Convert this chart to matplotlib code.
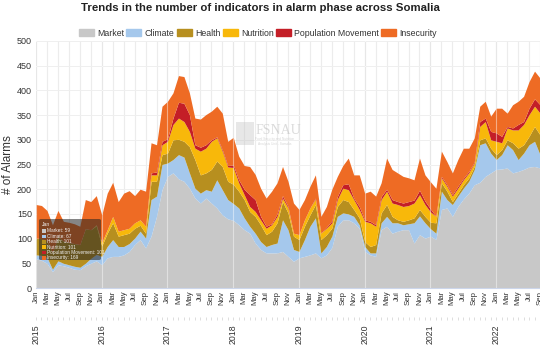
import numpy as np
import matplotlib.pyplot as plt
from matplotlib.patches import Patch, FancyBboxPatch, Rectangle

plt.rcParams['font.family'] = ['Liberation Sans', 'DejaVu Sans']

# monthly series, Jan 2015 .. Sep 2022 (stacked running totals, as shown in the tooltip)
market = [59, 56, 50, 33, 47, 45, 42, 38, 37, 45, 50, 55,
          47, 61, 64, 64, 67, 74, 88, 98, 81, 105, 145, 199,
          226, 233, 221, 216, 202, 182, 172, 182, 172, 162, 148, 140,
          137, 128, 118, 111, 91, 78, 71, 71, 71, 74, 64, 54,
          61, 64, 67, 71, 61, 67, 82, 125, 138, 138, 132, 121,
          74, 67, 64, 118, 125, 111, 115, 118, 118, 91, 108, 101,
          105, 98, 159, 162, 145, 165, 180, 192, 209, 214, 226, 233,
          240, 241, 243, 233, 236, 240, 245, 246, 243]
climate = [67, 66, 62, 38, 55, 50, 47, 44, 42, 50, 60, 68,
           64, 84, 98, 84, 84, 90, 101, 115, 101, 179, 186, 250,
           253, 260, 270, 265, 233, 202, 192, 199, 196, 219, 199, 179,
           171, 162, 142, 125, 111, 94, 84, 88, 91, 138, 118, 78,
           74, 98, 125, 142, 71, 84, 105, 145, 152, 150, 145, 128,
           84, 71, 71, 132, 145, 132, 132, 128, 130, 132, 146, 132,
           120, 111, 196, 179, 169, 186, 202, 216, 240, 290, 294, 273,
           260, 270, 290, 280, 260, 273, 290, 297, 270]
health = [101, 100, 95, 72, 104, 95, 92, 90, 88, 120, 118, 126,
          85, 111, 132, 105, 108, 111, 121, 127, 111, 216, 216, 270,
          273, 300, 301, 297, 286, 260, 229, 233, 240, 257, 246, 216,
          210, 196, 179, 155, 145, 128, 108, 115, 132, 175, 152, 105,
          98, 125, 148, 169, 98, 108, 121, 165, 179, 175, 159, 142,
          94, 84, 88, 152, 169, 145, 138, 135, 138, 142, 159, 145,
          133, 132, 213, 196, 175, 192, 209, 223, 246, 300, 304, 283,
          270, 280, 300, 294, 283, 290, 307, 327, 310]
nutrition = [101, 100, 95, 72, 104, 95, 92, 90, 88, 120, 118, 128,
             92, 118, 145, 115, 118, 121, 132, 138, 125, 229, 229, 290,
             297, 331, 344, 337, 317, 283, 277, 283, 297, 304, 277, 245,
             244, 213, 189, 165, 155, 138, 121, 128, 145, 182, 162, 111,
             108, 138, 162, 180, 111, 121, 132, 179, 202, 199, 179, 159,
             135, 132, 125, 179, 196, 172, 169, 165, 167, 172, 189, 169,
             154, 145, 223, 206, 186, 202, 219, 233, 253, 327, 337, 300,
             297, 294, 324, 320, 320, 331, 351, 368, 354]
population = [101, 100, 95, 72, 104, 95, 92, 90, 88, 120, 118, 128,
              92, 118, 145, 115, 118, 121, 132, 138, 125, 233, 235, 297,
              302, 344, 376, 374, 351, 290, 285, 290, 300, 306, 280, 248,
              249, 219, 200, 189, 179, 145, 125, 130, 150, 187, 165, 111,
              108, 138, 162, 182, 111, 123, 136, 185, 209, 211, 182, 165,
              138, 135, 128, 185, 200, 179, 175, 172, 175, 178, 198, 176,
              160, 145, 226, 209, 189, 206, 222, 236, 255, 337, 344, 317,
              314, 307, 327, 324, 331, 337, 364, 383, 371]
insecurity = [169, 167, 157, 128, 157, 135, 133, 130, 125, 179, 175, 187,
              148, 192, 214, 175, 192, 197, 187, 200, 196, 294, 290, 368,
              378, 395, 430, 428, 395, 344, 342, 351, 358, 368, 354, 297,
              305, 267, 248, 246, 230, 202, 182, 196, 213, 246, 216, 172,
              159, 179, 206, 229, 145, 165, 200, 226, 248, 263, 229, 229,
              192, 196, 186, 213, 263, 240, 233, 226, 223, 219, 263, 229,
              215, 202, 277, 256, 233, 260, 283, 283, 304, 368, 378, 348,
              364, 364, 354, 371, 378, 388, 418, 439, 425]

names = ['Market', 'Climate', 'Health', 'Nutrition', 'Population Movement', 'Insecurity']
colors = ['#c8c8c8', '#a5c8ec', '#b78f1f', '#f8b80a', '#c41e27', '#ee6b24']
series = [market, climate, health, nutrition, population, insecurity]
years = list(range(2015, 2023))
month_names = ['Jan', 'Feb', 'Mar', 'Apr', 'May', 'Jun',
               'Jul', 'Aug', 'Sep', 'Oct', 'Nov', 'Dec']

W, H = 540, 346
fig = plt.figure(figsize=(W / 100, H / 100), dpi=100)

def fx(px):
    return px / W

def fy(py):
    return 1 - py / H

x = np.arange(len(market))
ax = fig.add_axes([fx(36), fy(288), fx(504), 247 / H])
ax.set_xlim(0, len(x) - 1)
ax.set_ylim(0, 500)

# background grid
for m in range(0, len(x), 2):
    ax.axvline(m, color='#d4d4d4' if m % 12 == 0 else '#ececec', lw=0.8, zorder=0)
for v in range(50, 501, 50):
    ax.axhline(v, color='#efefef', lw=0.7, zorder=0)

lower = np.zeros(len(x))
for vals, c in zip(series, colors):
    vals = np.array(vals, dtype=float)
    ax.fill_between(x, lower, vals, color=c, lw=0, zorder=2)
    lower = vals

# year separators over the areas
for m in range(0, len(x), 12):
    ax.axvline(m, color='white', lw=0.8, alpha=0.45, zorder=3)

for s in ['top', 'right', 'left']:
    ax.spines[s].set_visible(False)
ax.spines['bottom'].set_color('#ccd6eb')
ax.spines['bottom'].set_linewidth(0.8)

ax.set_yticks(range(0, 501, 50))
ax.tick_params(axis='y', length=0, labelsize=6.5, colors='#333333', pad=3)
ax.set_xticks(range(0, len(x), 2))
ax.set_xticklabels([month_names[m % 12] for m in range(0, len(x), 2)],
                   rotation=90, fontsize=5.6, color='#333333')
ax.tick_params(axis='x', length=0, pad=2)
fig.text(fx(8), fy(165), '# of Alarms', rotation=90, fontsize=8.5, color='#333333',
         ha='center', va='center')

# year axis below the months
ax2 = fig.add_axes([fx(36), fy(320), fx(504), 0.0001])
ax2.set_xlim(0, len(x) - 1)
ax2.set_yticks([])
for s in ['top', 'right', 'left', 'bottom']:
    ax2.spines[s].set_visible(False)
ax2.set_xticks(range(0, len(x), 12))
ax2.set_xticklabels([str(y) for y in years], rotation=90, fontsize=6.3, color='#333333')
ax2.set_xticks(range(len(x)), minor=True)
ax2.tick_params(axis='x', which='both', direction='in', length=2.5, width=0.6,
                color='#d8d8d8', pad=3)

fig.text(fx(260), fy(8), 'Trends in the number of indicators in alarm phase across Somalia',
         ha='center', va='center', fontsize=8.2, fontweight='bold', color='#222222')

handles = [Patch(facecolor=c, edgecolor=c, label=n) for n, c in zip(names, colors)]
fig.legend(handles=handles, loc='center', bbox_to_anchor=(fx(258), fy(33)), ncol=6,
           frameon=False, fontsize=6.3, handlelength=1.7, handleheight=0.9,
           handletextpad=0.4, columnspacing=0.25, labelcolor='#333333')

# watermark
fig.add_artist(Rectangle((fx(236), fy(145)), fx(18), 23 / H, transform=fig.transFigure,
                         facecolor='#bdbdbd', edgecolor='none', alpha=0.35, zorder=5))
fig.text(fx(256), fy(131), 'FSNAU', fontsize=10, family='Liberation Serif',
         color='#b0b0b0', alpha=0.45, va='center', ha='left', zorder=5)
fig.text(fx(275), fy(141.5), 'Food Security and Nutrition\nAnalysis Unit - Somalia',
         fontsize=2.3, color='#b0b0b0', alpha=0.5, va='center', ha='center',
         linespacing=1.1, zorder=5)

# hover tooltip for Jan 2015
fig.add_artist(FancyBboxPatch((fx(39), fy(260)), fx(62), 41 / H,
                              boxstyle='round,pad=0,rounding_size=0.004',
                              transform=fig.transFigure, facecolor='#222222',
                              edgecolor='none', alpha=0.55, zorder=6))
fig.text(fx(42), fy(224), 'Jan', fontsize=3.6, color='#f0f0f0', va='center', zorder=7)
for i, (n, c, vals) in enumerate(zip(names, colors, series)):
    yy = 231 + i * 5.4
    fig.add_artist(Rectangle((fx(42), fy(yy + 1.8)), fx(3.6), 3.6 / H,
                             transform=fig.transFigure, facecolor=c,
                             edgecolor='none', zorder=7))
    fig.text(fx(47), fy(yy), f'{n}: {vals[0]}', fontsize=3.4, color='#f0f0f0',
             va='center', zorder=7)

fig.savefig('out.png', dpi=100)
